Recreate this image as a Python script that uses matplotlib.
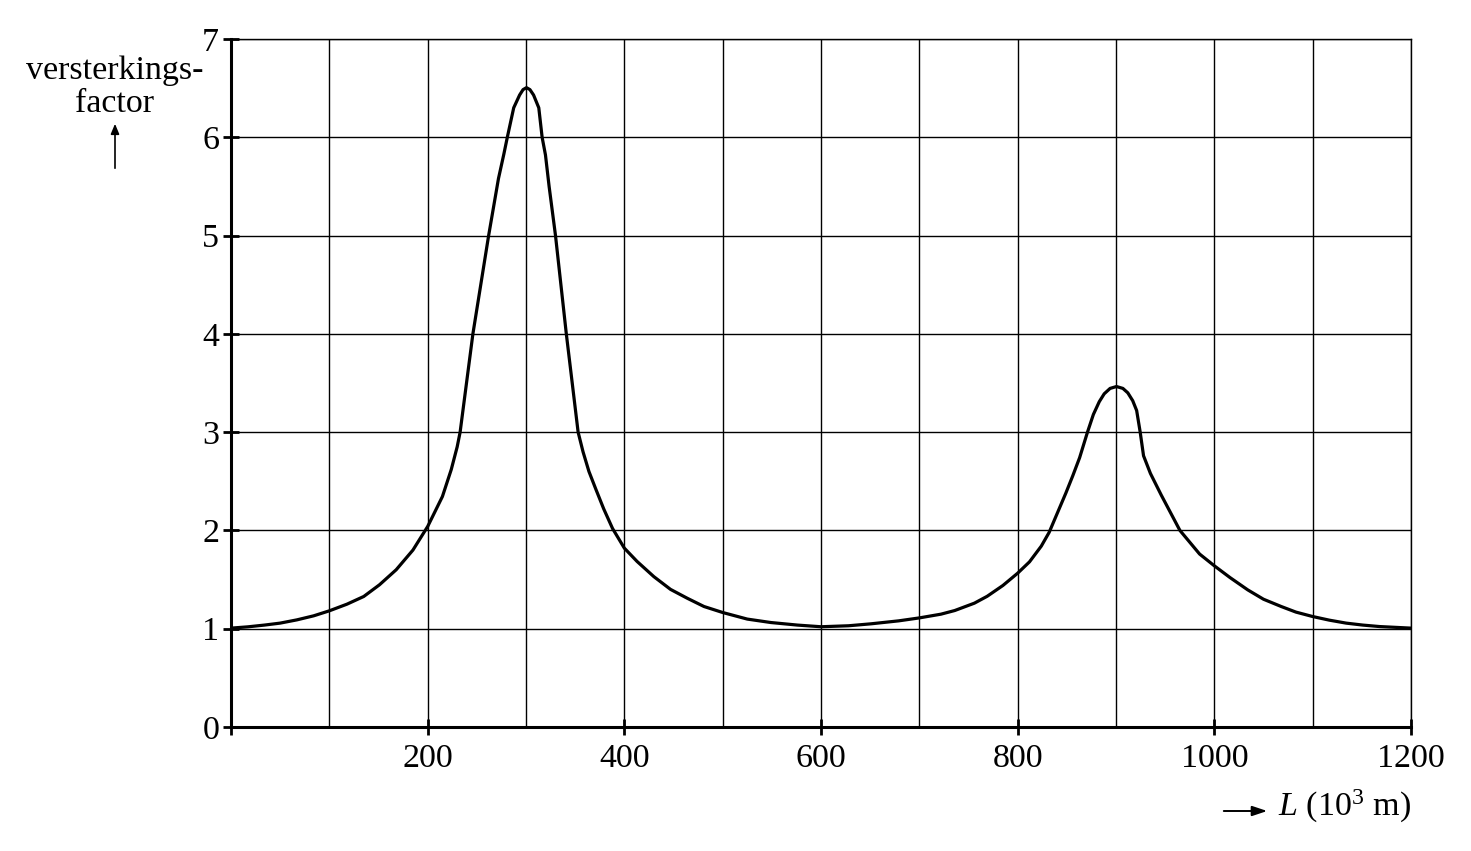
import matplotlib
matplotlib.use("Agg")
import matplotlib.pyplot as plt
from matplotlib.ticker import MultipleLocator, FuncFormatter

# Data (L in 10^3 m, versterkingsfactor)
L_values = [0, 17, 34, 50, 67, 84, 100, 118, 135, 151, 168, 185, 200, 215,
            224, 230, 233, 246, 262, 272, 277.5, 281, 287.5, 293.5, 297,
            300.5, 304, 307.7, 313, 316.4, 319.8, 323.5, 330, 341, 353, 358,
            364, 371, 379, 388, 400, 413, 430, 447, 464, 481, 500, 525, 549,
            576, 600, 628, 651, 679, 700, 722, 736, 756, 769, 785, 800, 812,
            824, 832, 849, 856, 863, 871, 877, 883, 888, 894, 900.5, 907,
            912, 917, 921, 924.6, 928, 935, 946, 965, 985, 1000, 1016, 1034,
            1050, 1068, 1083, 1100, 1117, 1134, 1151, 1168, 1200]
factor_values = [1.006, 1.019, 1.037, 1.057, 1.09, 1.131, 1.182, 1.25, 1.328,
                 1.447, 1.60, 1.80, 2.04, 2.345, 2.62, 2.85, 3.0, 4.0, 5.0,
                 5.58, 5.83, 6.0, 6.30, 6.43, 6.485, 6.505, 6.485, 6.43,
                 6.30, 6.0, 5.82, 5.5, 5.0, 4.0, 3.0, 2.80, 2.60, 2.42, 2.22,
                 2.02, 1.82, 1.684, 1.53, 1.40, 1.31, 1.226, 1.165, 1.098,
                 1.063, 1.037, 1.02, 1.03, 1.05, 1.08, 1.11, 1.148, 1.185,
                 1.26, 1.33, 1.44, 1.565, 1.68, 1.84, 1.98, 2.38, 2.555, 2.74,
                 3.0, 3.18, 3.31, 3.39, 3.445, 3.464, 3.445, 3.40, 3.32, 3.22,
                 3.0, 2.76, 2.58, 2.36, 2.0, 1.76, 1.64, 1.52, 1.395, 1.30,
                 1.226, 1.169, 1.124, 1.087, 1.057, 1.037, 1.022, 1.006]
x_ticks = [0, 200, 400, 600, 800, 1000, 1200]
y_ticks = [0, 1, 2, 3, 4, 5, 6, 7]

plt.rcParams['font.family'] = ['Liberation Serif', 'DejaVu Serif']
plt.rcParams['mathtext.fontset'] = 'custom'
plt.rcParams['mathtext.rm'] = 'Liberation Serif'
plt.rcParams['mathtext.it'] = 'Liberation Serif:italic'

FS = 24.5

fig = plt.figure(figsize=(14.71, 8.51), dpi=100)
ax = fig.add_axes([231/1471, 1 - 727/851, (1411-231)/1471, (727-39)/851])

ax.plot(L_values, factor_values, color='black', lw=2.3,
        solid_joinstyle='round', solid_capstyle='round', zorder=3)

ax.set_xlim(0, 1200)
ax.set_ylim(0, 7)
ax.set_xticks(x_ticks)
ax.xaxis.set_minor_locator(MultipleLocator(100))
ax.set_yticks(y_ticks)
ax.xaxis.set_major_formatter(FuncFormatter(lambda v, p: '' if v == 0 else f'{int(v)}'))

ax.grid(True, which='both', color='black', lw=1.0)
ax.set_axisbelow(True)

ax.tick_params(axis='x', which='major', direction='inout', length=12, width=2.0,
               labelsize=FS, pad=6)
ax.tick_params(axis='x', which='minor', length=0)
ax.tick_params(axis='y', which='major', direction='inout', length=11, width=2.0,
               labelsize=FS, pad=3)

for s in ['left', 'bottom']:
    ax.spines[s].set_linewidth(2.2)
for s in ['top', 'right']:
    ax.spines[s].set_linewidth(1.0)

# y label top-left
fig.text(115/1471, 1 - 71/851, 'versterkings-', ha='center', va='center', fontsize=FS)
fig.text(115/1471, 1 - 104/851, 'factor', ha='center', va='center', fontsize=FS)
fig.add_artist(matplotlib.patches.FancyArrowPatch(
    (115/1471, 1 - 171/851), (115/1471, 1 - 121/851), transform=fig.transFigure,
    arrowstyle='-|>,head_length=6,head_width=2.5', mutation_scale=1, color='black', lw=1.2))

# x label bottom-right
fig.add_artist(matplotlib.patches.FancyArrowPatch(
    (1221/1471, 1 - 811/851), (1270/1471, 1 - 811/851), transform=fig.transFigure,
    arrowstyle='-|>,head_length=9,head_width=3', mutation_scale=1, color='black', lw=1.4))
fig.text(1411/1471, 1 - 806/851, r'$L$ (10$^3$ m)', ha='right', va='center', fontsize=FS)

fig.savefig('out.png', dpi=100)
